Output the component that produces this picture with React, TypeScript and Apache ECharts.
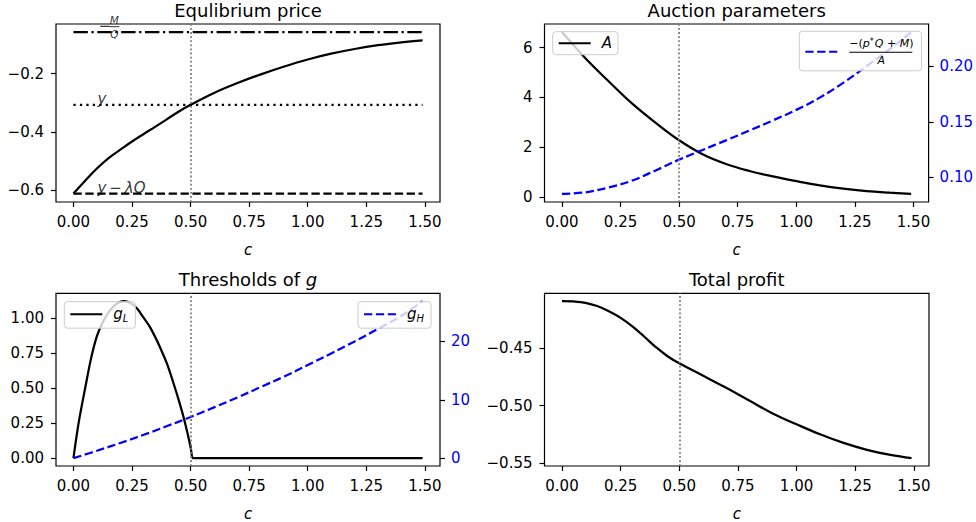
import React, { useEffect, useRef } from 'react';
import * as echarts from 'echarts';

const FONT = 'DejaVu Sans';

// shared x axis
const X_TICKS = [0, 0.25, 0.5, 0.75, 1.0, 1.25, 1.5];
const X_MIN = -0.0745;
const X_MAX = 1.5645;
const C_MARK = 0.5;

// Panel 1: Equlibrium price
const C_PRICE = [0, 0.05, 0.1, 0.15, 0.2, 0.25, 0.3, 0.35, 0.4, 0.45, 0.5, 0.6, 0.7, 0.8, 0.9, 1.0, 1.1, 1.2, 1.3, 1.4, 1.49];
const PRICE = [-0.612, -0.568, -0.526, -0.49, -0.461, -0.433, -0.407, -0.382, -0.356, -0.33, -0.307, -0.266, -0.232, -0.202, -0.175, -0.151, -0.131, -0.115, -0.102, -0.092, -0.085];
const REF_C = [0, 1.49];
const REF_UPPER = -0.057; // -M/Q
const REF_MID = -0.307; // y
const REF_LOWER = -0.612; // y - lambda Q
const LABEL_C = 0.1;
const PRICE_TICKS = [-0.6, -0.4, -0.2];
const PRICE_RANGE = [-0.641, -0.029];

// Panel 2: Auction parameters
const C_AUCTION = [0, 0.1, 0.2, 0.3, 0.4, 0.5, 0.6, 0.7, 0.8, 0.9, 1.0, 1.1, 1.2, 1.3, 1.4, 1.49];
const A_VALUES = [6.62, 5.57, 4.64, 3.75, 2.98, 2.28, 1.72, 1.33, 1.05, 0.83, 0.64, 0.47, 0.34, 0.245, 0.18, 0.13];
const RATIO_VALUES = [0.0852, 0.0866, 0.091, 0.0972, 0.1063, 0.116, 0.1247, 0.1333, 0.1421, 0.1512, 0.1607, 0.1717, 0.185, 0.2, 0.2155, 0.2306];
const A_TICKS = [0, 2, 4, 6];
const A_RANGE = [-0.195, 6.945];
const RATIO_TICKS = [0.1, 0.15, 0.2];
const RATIO_RANGE = [0.0779, 0.2379];

// Panel 3: Thresholds of g
const C_GL = [0, 0.01, 0.025, 0.05, 0.075, 0.1, 0.125, 0.15, 0.175, 0.2, 0.217, 0.25, 0.275, 0.3, 0.325, 0.35, 0.375, 0.4, 0.425, 0.45, 0.475, 0.5, 0.508, 0.51, 0.75, 1.0, 1.25, 1.49];
const G_L = [0, 0.12, 0.28, 0.5, 0.71, 0.87, 0.97, 1.04, 1.09, 1.115, 1.12, 1.1, 1.06, 1.0, 0.94, 0.86, 0.77, 0.67, 0.545, 0.41, 0.26, 0.08, 0, 0, 0, 0, 0, 0];
const C_GH = [0, 0.1, 0.2, 0.3, 0.4, 0.5, 0.6, 0.7, 0.8, 0.9, 1.0, 1.1, 1.2, 1.3, 1.4, 1.49];
const G_H = [0, 1.26, 2.6, 4.0, 5.5, 7.05, 8.7, 10.4, 12.2, 14.0, 15.95, 17.95, 20.0, 22.15, 24.4, 26.9];
const GL_TICKS = [0, 0.25, 0.5, 0.75, 1.0];
const GL_RANGE = [-0.056, 1.176];
const GH_TICKS = [0, 10, 20];
const GH_RANGE = [-1.345, 28.245];

// Panel 4: Total profit
const C_PROFIT = [0, 0.05, 0.1, 0.15, 0.2, 0.25, 0.3, 0.35, 0.4, 0.45, 0.5, 0.6, 0.7, 0.8, 0.9, 1.0, 1.1, 1.2, 1.3, 1.4, 1.49];
const PROFIT = [-0.409, -0.4093, -0.4105, -0.4133, -0.4178, -0.4236, -0.431, -0.4398, -0.449, -0.457, -0.4632, -0.4738, -0.4845, -0.4958, -0.507, -0.5163, -0.525, -0.5325, -0.5385, -0.543, -0.5458];
const PROFIT_TICKS = [-0.55, -0.5, -0.45];
const PROFIT_RANGE = [-0.5526, -0.4022];

const pairs = (xs: number[], ys: number[]) => xs.map((x, i) => [x, ys[i]]);
const fmt = (v: number, d: number) => (v < -1e-9 ? '\u2212' : '') + Math.abs(v).toFixed(d);

const DASHED = [8.3, 3.6];
const DASHDOT = [14.4, 3.6, 2.25, 3.6];
const DOTTED = [2.25, 4.2];
const VDOT = [1.8, 2.3];

const GRIDS = [
  { left: 56, top: 24, width: 384, height: 178 },
  { left: 544.5, top: 24, width: 384.5, height: 178 },
  { left: 56, top: 293.3, width: 384, height: 179 },
  { left: 544.5, top: 293.3, width: 384.5, height: 179 },
];

function xAxisFor(gi: number) {
  return {
    type: 'value', gridIndex: gi, min: X_MIN, max: X_MAX, position: 'bottom',
    splitLine: { show: false }, axisLine: { show: false, onZero: false },
    axisTick: { show: true, inside: false, length: 5, customValues: X_TICKS, lineStyle: { color: '#000', width: 1.2 } },
    axisLabel: { show: true, customValues: X_TICKS, margin: 12, fontSize: 15, color: '#000', fontFamily: FONT, formatter: (v: number) => fmt(v, 2) },
    name: 'c', nameLocation: 'middle', nameGap: 40,
    nameTextStyle: { fontStyle: 'italic', fontSize: 15, color: '#000', fontFamily: FONT },
  };
}

function yAxisFor(gi: number, range: number[], ticks: number[], dec: number, pos: string, color: string) {
  return {
    type: 'value', gridIndex: gi, min: range[0], max: range[1], position: pos,
    splitLine: { show: false }, axisLine: { show: false, onZero: false },
    axisTick: { show: true, inside: false, length: 5, customValues: ticks, lineStyle: { color: '#000', width: 1.2 } },
    axisLabel: { show: true, customValues: ticks, margin: pos === 'left' ? 12 : 11, fontSize: 15, color, fontFamily: FONT, formatter: (v: number) => fmt(v, dec) },
  };
}

const vline = {
  symbol: 'none', silent: true, label: { show: false },
  lineStyle: { color: '#7f7f7f', type: VDOT, width: 1.8, cap: 'butt' },
  emphasis: { disabled: true },
  data: [{ xAxis: C_MARK }],
};

function lineSeries(name: string, xi: number, yi: number, data: number[][], color: string, type: any, smooth: any, extra: any = {}) {
  return {
    type: 'line', name, xAxisIndex: xi, yAxisIndex: yi, data,
    symbol: 'none', showSymbol: false, smooth,
    lineStyle: { color, width: 2.25, type, cap: 'butt' },
    itemStyle: { color },
    emphasis: { disabled: true },
    ...extra,
  };
}

const lbl = { fontFamily: FONT, color: '#000' };

const legendBase = {
  orient: 'horizontal', itemWidth: 32, itemHeight: 14, itemGap: 0,
  backgroundColor: 'rgba(255,255,255,0.8)', borderColor: '#cccccc', borderWidth: 1, borderRadius: 3,
  selectedMode: false,
  itemStyle: { color: 'rgba(0,0,0,0)', borderWidth: 0, opacity: 0 },
};

function buildOption() {
  return {
    animation: false,
    backgroundColor: '#ffffff',
    textStyle: { fontFamily: FONT },
    title: [
      { text: 'Equlibrium price', left: 248, top: 1, textAlign: 'center', padding: 0, textStyle: { fontSize: 18, fontWeight: 'normal', color: '#000', fontFamily: FONT } },
      { text: 'Auction parameters', left: 736.7, top: 1, textAlign: 'center', padding: 0, textStyle: { fontSize: 18, fontWeight: 'normal', color: '#000', fontFamily: FONT } },
      {
        text: 'Thresholds of {i|g}', left: 248, top: 270.3, textAlign: 'center', padding: 0,
        textStyle: { fontSize: 18, fontWeight: 'normal', color: '#000', fontFamily: FONT, rich: { i: { fontStyle: 'italic', fontSize: 18, color: '#000', fontFamily: FONT } } },
      },
      { text: 'Total profit', left: 736.7, top: 270.3, textAlign: 'center', padding: 0, textStyle: { fontSize: 18, fontWeight: 'normal', color: '#000', fontFamily: FONT } },
    ],
    grid: GRIDS.map((g) => ({ ...g, show: true, borderColor: '#000', borderWidth: 1.2, backgroundColor: 'transparent', containLabel: false })),
    xAxis: [xAxisFor(0), xAxisFor(1), xAxisFor(2), xAxisFor(3)],
    yAxis: [
      yAxisFor(0, PRICE_RANGE, PRICE_TICKS, 1, 'left', '#000'),
      yAxisFor(1, A_RANGE, A_TICKS, 0, 'left', '#000'),
      yAxisFor(1, RATIO_RANGE, RATIO_TICKS, 2, 'right', '#0000ff'),
      yAxisFor(2, GL_RANGE, GL_TICKS, 2, 'left', '#000'),
      yAxisFor(2, GH_RANGE, GH_TICKS, 0, 'right', '#0000ff'),
      yAxisFor(3, PROFIT_RANGE, PROFIT_TICKS, 2, 'left', '#000'),
    ],
    legend: [
      {
        ...legendBase, data: ['A'], left: 552.7, top: 31.7, padding: [4, 6, 4, 5],
        formatter: () => '{i|A}',
        textStyle: { rich: { i: { fontStyle: 'italic', fontSize: 15, fontFamily: FONT, color: '#000', padding: [0, 0, 0, 6] } } },
      },
      {
        ...legendBase, data: ['ratio'], left: 799.3, top: 31.3, padding: [6, 8, 5, 5],
        formatter: () =>
          '{sp| }{n|\u2212(}{ni|p}{sup|*}{ni|Q}{n| + }{ni|M}{n|)}\n{sp| }{bar| }\n{sp| }{den|A}',
        textStyle: {
          rich: {
            sp: { width: 7, fontSize: 1, lineHeight: 1 },
            n: { fontSize: 11, lineHeight: 13, fontFamily: FONT, color: '#000' },
            ni: { fontSize: 11, lineHeight: 13, fontStyle: 'italic', fontFamily: FONT, color: '#000' },
            sup: { fontSize: 8, lineHeight: 13, verticalAlign: 'top', fontFamily: FONT, color: '#000', padding: [0, 1, 4, 0] },
            bar: { width: 63, height: 1, lineHeight: 4, fontSize: 1, backgroundColor: '#000' },
            den: { width: 63, align: 'center', fontSize: 11, lineHeight: 12, fontStyle: 'italic', fontFamily: FONT, color: '#000' },
          },
        },
      },
      {
        ...legendBase, data: ['gL'], left: 64.3, top: 301.7, padding: [5, 7, 5, 5],
        formatter: () => '{i|g}{sub|L}',
        textStyle: {
          rich: {
            i: { fontStyle: 'italic', fontSize: 15, lineHeight: 18, fontFamily: FONT, color: '#000', padding: [0, 0, 0, 6] },
            sub: { fontStyle: 'italic', fontSize: 10, lineHeight: 10, verticalAlign: 'bottom', fontFamily: FONT, color: '#000' },
          },
        },
      },
      {
        ...legendBase, data: ['gH'], left: 358, top: 301.7, padding: [5, 7, 5, 5],
        formatter: () => '{i|g}{sub|H}',
        textStyle: {
          rich: {
            i: { fontStyle: 'italic', fontSize: 15, lineHeight: 18, fontFamily: FONT, color: '#000', padding: [0, 0, 0, 6] },
            sub: { fontStyle: 'italic', fontSize: 10, lineHeight: 10, verticalAlign: 'bottom', fontFamily: FONT, color: '#000' },
          },
        },
      },
    ],
    series: [
      lineSeries('price', 0, 0, pairs(C_PRICE, PRICE), '#000', 'solid', 0.4, { markLine: vline }),
      lineSeries('upper', 0, 0, pairs(REF_C, [REF_UPPER, REF_UPPER]), '#000', DASHDOT, false),
      lineSeries('mid', 0, 0, pairs(REF_C, [REF_MID, REF_MID]), '#000', DOTTED, false),
      lineSeries('lower', 0, 0, pairs(REF_C, [REF_LOWER, REF_LOWER]), '#000', DASHED, false),
      {
        type: 'scatter', name: 'annotations', xAxisIndex: 0, yAxisIndex: 0, symbolSize: 1, silent: true,
        itemStyle: { color: 'rgba(0,0,0,0)' }, z: 5,
        data: [
          { value: [LABEL_C, REF_MID], label: { show: true, position: [0, 0], align: 'left', verticalAlign: 'bottom', offset: [1, 2], formatter: 'y', fontSize: 15, fontStyle: 'italic', ...lbl } },
          { value: [LABEL_C, REF_LOWER], label: { show: true, position: [0, 0], align: 'left', verticalAlign: 'bottom', offset: [1, 2], formatter: 'y\u2009\u2212\u2009\u03bbQ', fontSize: 15, fontStyle: 'italic', ...lbl } },
          { value: [LABEL_C, REF_UPPER], label: { show: true, position: [0, 0], align: 'left', verticalAlign: 'middle', offset: [2, -6], formatter: '\u2212', fontSize: 15, ...lbl } },
          {
            value: [LABEL_C, REF_UPPER],
            label: {
              show: true, position: [0, 0], align: 'center', verticalAlign: 'middle', offset: [18, -5],
              formatter: '{n|M}\n{b| }\n{d|Q}', ...lbl,
              rich: {
                n: { fontSize: 10.5, lineHeight: 11, fontStyle: 'italic', fontFamily: FONT, color: '#000' },
                b: { width: 10, height: 1, lineHeight: 3, fontSize: 1, backgroundColor: '#000' },
                d: { fontSize: 10.5, lineHeight: 11, fontStyle: 'italic', fontFamily: FONT, color: '#000' },
              },
            },
          },
        ],
      },
      lineSeries('A', 1, 1, pairs(C_AUCTION, A_VALUES), '#000', 'solid', 0.4, { markLine: vline }),
      lineSeries('ratio', 1, 2, pairs(C_AUCTION, RATIO_VALUES), '#0000ff', DASHED, 0.4),
      lineSeries('gL', 2, 3, pairs(C_GL, G_L), '#000', 'solid', 0.3, { markLine: vline }),
      lineSeries('gH', 2, 4, pairs(C_GH, G_H), '#0000ff', DASHED, 0.4),
      lineSeries('profit', 3, 5, pairs(C_PROFIT, PROFIT), '#000', 'solid', 0.4, { markLine: vline }),
    ],
  };
}

export default function App() {
  const ref = useRef<HTMLDivElement>(null);
  useEffect(() => {
    document.body.style.margin = '0';
    const chart = echarts.init(ref.current as HTMLDivElement, null, { renderer: 'svg' });
    chart.setOption(buildOption() as any);
    return () => chart.dispose();
  }, []);
  return <div ref={ref} style={{ position: 'fixed', left: 0, top: 0, width: 976, height: 522, background: '#fff' }} />;
}
